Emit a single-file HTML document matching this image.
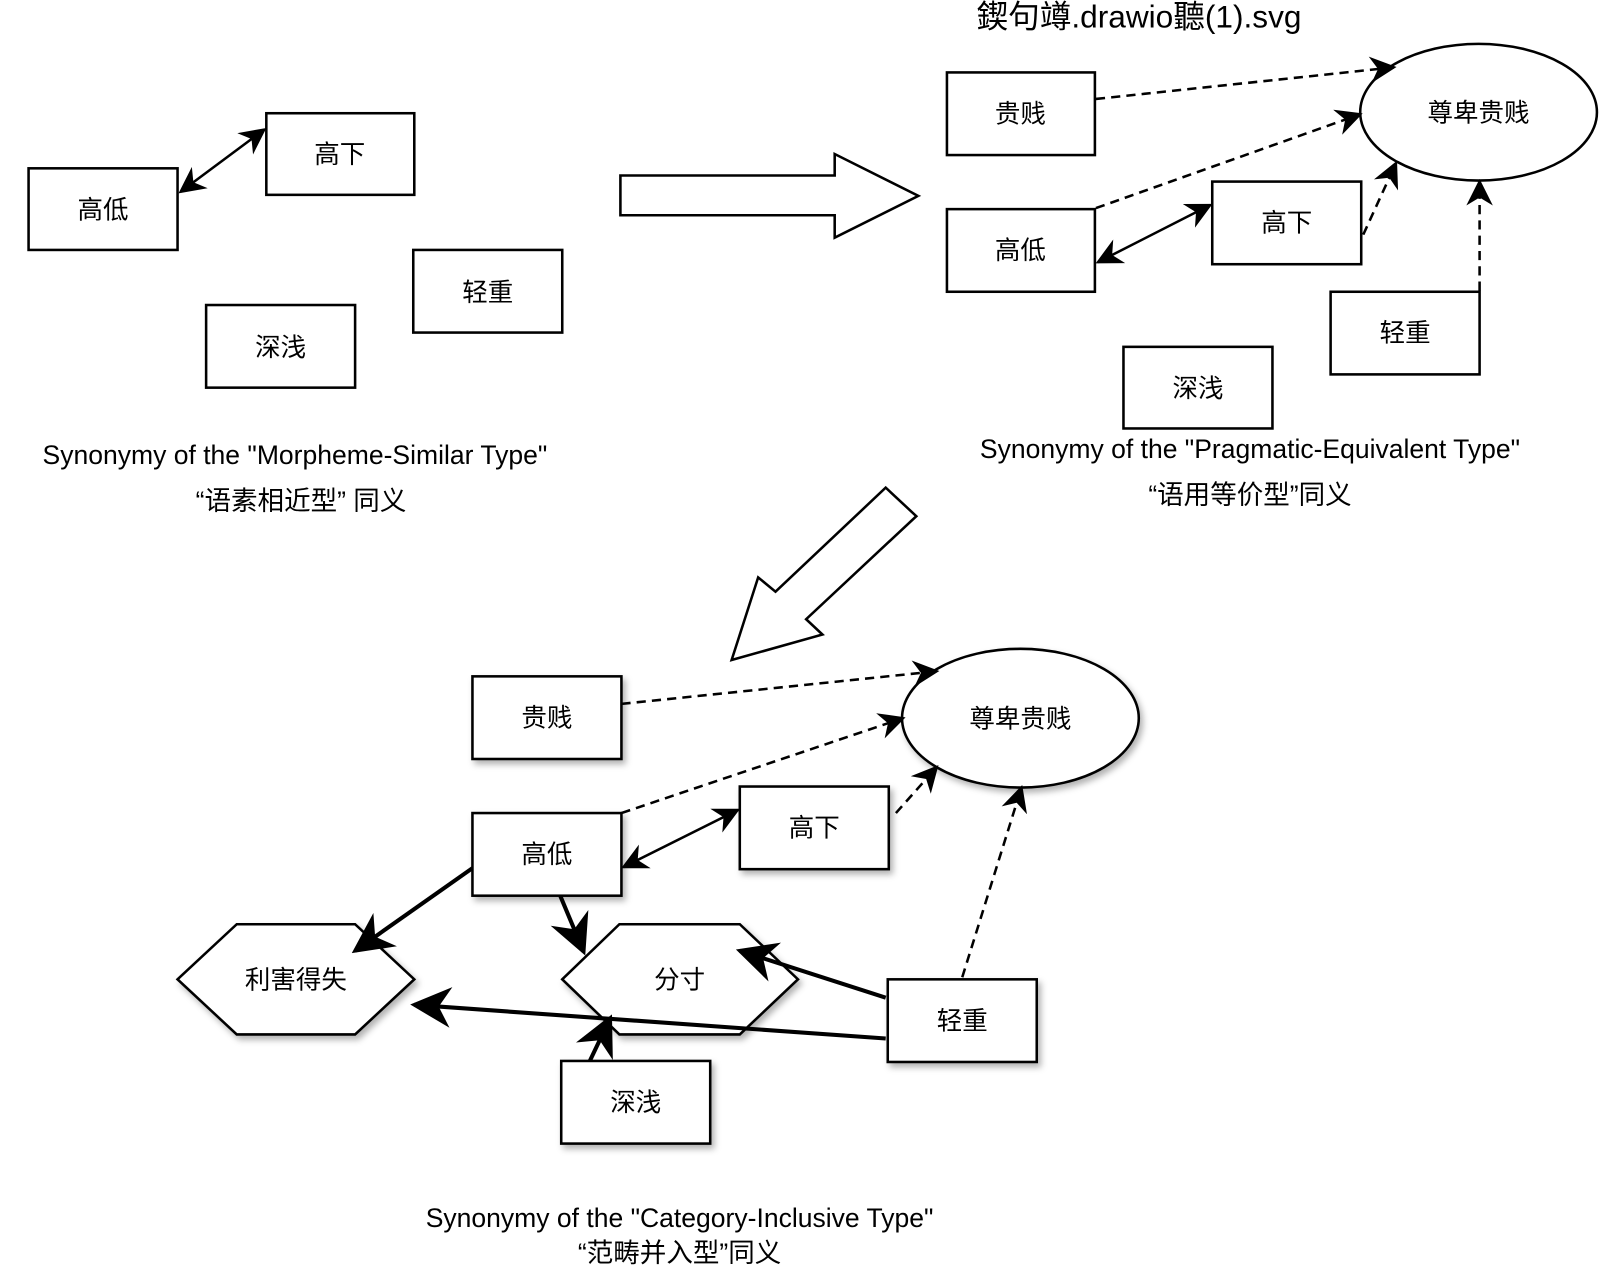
<!DOCTYPE html>
<html><head><meta charset="utf-8"><style>
html,body{margin:0;padding:0;background:#fff;}
svg{display:block}
text{font-family:"Liberation Sans","Noto Sans CJK SC",sans-serif;fill:#000}
</style></head><body>
<svg width="1600" height="1266" viewBox="0 0 1568 1241" preserveAspectRatio="none" xmlns="http://www.w3.org/2000/svg">
<defs>
<marker id="m" viewBox="0 0 10 10" refX="9" refY="5" markerWidth="26" markerHeight="26" markerUnits="userSpaceOnUse" orient="auto-start-reverse"><path d="M0,0 L10,5 L0,10 L3,5z" fill="#000"/></marker>
<marker id="b" viewBox="0 0 10 10" refX="9" refY="5" markerWidth="10" markerHeight="10" orient="auto"><path d="M0,0 L10,5 L0,10 L3,5z" fill="#000"/></marker>
<filter id="s" x="-20%" y="-20%" width="150%" height="160%"><feDropShadow dx="3" dy="4" stdDeviation="3" flood-color="#000" flood-opacity="0.3"/></filter>
</defs>
<g fill="#fff" stroke="#000" stroke-width="2.5">
<rect x="28" y="165" width="146" height="80"/>
<rect x="261" y="111" width="145" height="80"/>
<rect x="405" y="245" width="146" height="81"/>
<rect x="202" y="299" width="146" height="81"/>
<polygon points="608,172 818,172 818,151 900,192 818,233 818,211 608,211"/>
<rect x="928" y="71" width="145" height="81"/>
<rect x="928" y="205" width="145" height="81"/>
<rect x="1188" y="178" width="146" height="81"/>
<rect x="1304" y="286" width="146" height="81"/>
<rect x="1101" y="340" width="146" height="80"/>
<ellipse cx="1449" cy="110" rx="116" ry="67"/>
<polygon points="868,478 898,506 790,607 806,622 717,647 743,566 760,580"/>
</g>
<g fill="#fff" stroke="#000" stroke-width="2.5" filter="url(#s)">
<rect x="463" y="663" width="146" height="81"/>
<rect x="463" y="797" width="146" height="81"/>
<rect x="725" y="771" width="146" height="81"/>
<rect x="870" y="960" width="146" height="81"/>
<rect x="550" y="1040" width="146" height="81"/>
<ellipse cx="1000" cy="704" rx="116" ry="68"/>
<polygon points="174,960 232,906 348,906 406,960 348,1014 232,1014"/>
<polygon points="551,960 607,906 725,906 782,960 725,1014 607,1014"/>
</g>
<g stroke="#000" stroke-width="2.5" fill="none">
<line x1="177" y1="188" x2="259" y2="127" marker-end="url(#m)" marker-start="url(#m)"/>
<line x1="1076" y1="257" x2="1186" y2="201" marker-end="url(#m)" marker-start="url(#m)"/>
<line x1="611" y1="850" x2="723" y2="794" marker-end="url(#m)" marker-start="url(#m)"/>
</g>
<g stroke="#000" stroke-width="2.5" fill="none" stroke-dasharray="9,6">
<line x1="1074" y1="97" x2="1366" y2="66" marker-end="url(#m)"/>
<line x1="1074" y1="204" x2="1333" y2="112" marker-end="url(#m)"/>
<line x1="1336" y1="230" x2="1368" y2="160" marker-end="url(#m)"/>
<line x1="1450" y1="285" x2="1450" y2="178" marker-end="url(#m)"/>
<line x1="609" y1="690" x2="918" y2="658" marker-end="url(#m)"/>
<line x1="609" y1="797" x2="885" y2="704" marker-end="url(#m)"/>
<line x1="878" y1="797" x2="918" y2="752" marker-end="url(#m)"/>
<line x1="943" y1="958" x2="1001" y2="772" marker-end="url(#m)"/>
</g>
<g stroke="#000" stroke-width="4" fill="none">
<line x1="463" y1="851" x2="348" y2="932" marker-end="url(#b)"/>
<line x1="549" y1="878" x2="572" y2="933" marker-end="url(#b)"/>
<line x1="868" y1="978" x2="725" y2="932" marker-end="url(#b)"/>
<line x1="868" y1="1018" x2="406" y2="985" marker-end="url(#b)"/>
<line x1="578" y1="1040" x2="598" y2="998" marker-end="url(#b)"/>
</g>
<g font-size="25" text-anchor="middle">
<text x="101" y="214">高低</text>
<text x="333" y="160">高下</text>
<text x="478" y="295">轻重</text>
<text x="275" y="349">深浅</text>
<text x="1000" y="120">贵贱</text>
<text x="1000" y="254">高低</text>
<text x="1261" y="227">高下</text>
<text x="1377" y="335">轻重</text>
<text x="1174" y="389">深浅</text>
<text x="1449" y="119">尊卑贵贱</text>
<text x="536" y="712">贵贱</text>
<text x="536" y="846">高低</text>
<text x="798" y="820">高下</text>
<text x="943" y="1009">轻重</text>
<text x="623" y="1089">深浅</text>
<text x="1000" y="713">尊卑贵贱</text>
<text x="290" y="969">利害得失</text>
<text x="666" y="969">分寸</text>
</g>
<g font-size="26" text-anchor="middle">
<text x="289" y="455">Synonymy of the "Morpheme-Similar Type"</text>
<text x="295" y="500">“语素相近型”  同义</text>
<text x="1225" y="449">Synonymy of the "Pragmatic-Equivalent Type"</text>
<text x="1225" y="494">“语用等价型”同义</text>
<text x="666" y="1203">Synonymy of the "Category-Inclusive Type"</text>
<text x="666" y="1237">“范畴并入型”同义</text>
</g>
<text x="957" y="27" font-size="31">鍥句竴.drawio聽(1).svg</text>
</svg>
</body></html>
